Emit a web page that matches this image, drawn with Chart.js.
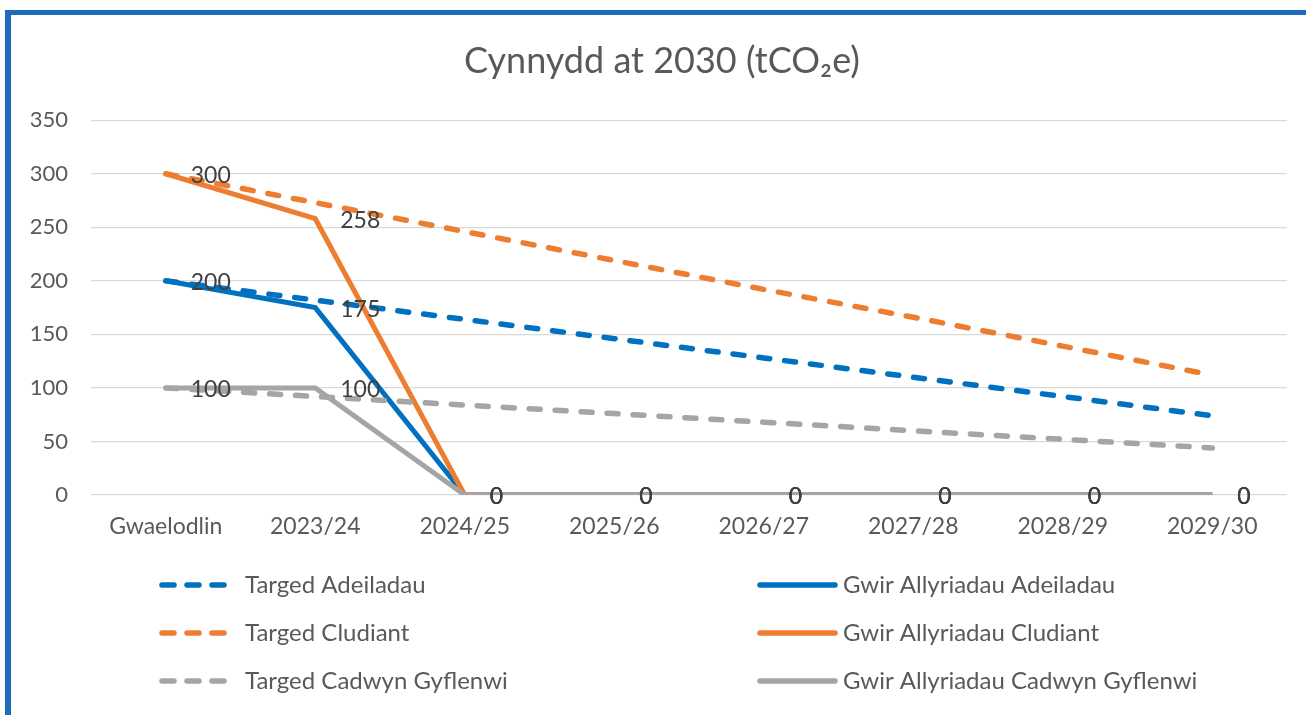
<!DOCTYPE html>
<html><head><meta charset="utf-8">
<script src="https://cdn.jsdelivr.net/npm/chart.js@4.4.0/dist/chart.umd.min.js"></script>
<style>
html,body{margin:0;padding:0;background:#fff;}
#wrap{position:relative;width:1306px;height:715px;overflow:hidden;background:#fff;}
#frameTop{position:absolute;left:5px;top:10px;width:1301px;height:5px;background:#1d6cbc;}
#frameLeft{position:absolute;left:5px;top:10px;width:6px;height:705px;background:#1d6cbc;}
canvas{position:absolute;left:0;top:0;}
</style></head><body>
<div id="wrap"><canvas id="c" width="1306" height="715"></canvas><div id="frameTop"></div><div id="frameLeft"></div></div>
<script>
const categories = ["Gwaelodlin","2023/24","2024/25","2025/26","2026/27","2027/28","2028/29","2029/30"];
const targedAdeiladau = [200,182,164,146,128,110,92,74];
const gwirAdeiladau   = [200,175,0,0,0,0,0,0];
const targedCludiant  = [300,273,246,219,192,166,139,112];
const gwirCludiant    = [300,258,0,0,0,0,0,0];
const targedCadwyn    = [100,92,84,76,68,60,52,44];
const gwirCadwyn      = [100,100,0,0,0,0,0,0];
const yTicks = [0,50,100,150,200,250,300,350];

const BLUE='#0070c0', ORANGE='#ed7d31', GREY='#a5a5a5';
const FONT='Lato';
const TXT='#595959';

function dashed(label,data,color,order){
  return {label,data,borderColor:color,backgroundColor:color,borderWidth:5.5,borderDash:[11,15],
    borderCapStyle:'round',pointRadius:0,tension:0,order,isDashed:true};
}
function solid(label,data,color,order){
  return {label,data,borderColor:color,backgroundColor:color,borderWidth:5,
    borderCapStyle:'butt',borderJoinStyle:'miter',pointRadius:0,tension:0,order,isDashed:false,showLabels:true};
}

const datasets=[
  dashed('Targed Adeiladau',targedAdeiladau,BLUE,6),
  solid('Gwir Allyriadau Adeiladau',gwirAdeiladau,BLUE,5),
  dashed('Targed Cludiant',targedCludiant,ORANGE,4),
  solid('Gwir Allyriadau Cludiant',gwirCludiant,ORANGE,3),
  dashed('Targed Cadwyn Gyflenwi',targedCadwyn,GREY,2),
  solid('Gwir Allyriadau Cadwyn Gyflenwi',gwirCadwyn,GREY,1)
];

const dataLabels={
  id:'dataLabels',
  afterDatasetsDraw(chart){
    const ctx=chart.ctx;
    ctx.save();
    ctx.font='23px '+FONT;
    ctx.fillStyle='#404040';
    ctx.textAlign='left';ctx.textBaseline='middle';
    chart.data.datasets.forEach((ds,i)=>{
      if(!ds.showLabels) return;
      const meta=chart.getDatasetMeta(i);
      meta.data.forEach((pt,j)=>{
        ctx.fillText(String(ds.data[j]),pt.x+25,pt.y+2);
      });
    });
    ctx.restore();
  }
};

const customLegend={
  id:'customLegend',
  afterDraw(chart){
    const ctx=chart.ctx;
    const rowsY=[585,633,681];
    const cols=[{x0:162,x1:231,tx:245},{x0:760,x1:835,tx:843}];
    ctx.save();
    ctx.font='24px '+FONT;
    ctx.textAlign='left';ctx.textBaseline='middle';
    chart.data.datasets.forEach((ds,i)=>{
      const c=cols[i%2], y=rowsY[Math.floor(i/2)];
      ctx.strokeStyle=ds.borderColor;
      ctx.lineWidth=5.5;
      if(ds.isDashed){ctx.setLineDash([12,13]);ctx.lineCap='round';}
      else {ctx.setLineDash([]);ctx.lineCap='round';}
      ctx.beginPath();ctx.moveTo(c.x0,y);ctx.lineTo(c.x1,y);ctx.stroke();
      ctx.fillStyle=TXT;
      ctx.fillText(ds.label,c.tx,y);
    });
    ctx.restore();
  }
};

new Chart(document.getElementById('c'),{
  type:'line',
  data:{labels:categories,datasets},
  options:{
    responsive:false,animation:false,
    layout:{padding:{left:18,right:0,top:0,bottom:170}},
    plugins:{
      legend:{display:false},tooltip:{enabled:false},
      title:{display:true,text:'Cynnydd at 2030 (tCO₂e)',color:TXT,
        font:{family:FONT,size:36,weight:'normal'},padding:{top:40,bottom:37}}
    },
    scales:{
      x:{offset:true,grid:{display:false,drawTicks:false},border:{display:false},
        ticks:{color:TXT,font:{family:FONT,size:23},padding:18,maxRotation:0},
        afterFit(s){s.height=50;}},
      y:{min:0,max:350,afterBuildTicks(s){s.ticks=yTicks.map(v=>({value:v}));},
        grid:{color:'#d9d9d9',lineWidth:1.3,drawTicks:false},border:{display:false},
        ticks:{color:TXT,font:{family:FONT,size:22},padding:23},
        afterFit(s){s.width=73;}},
      yRight:{position:'right',min:0,max:350,display:true,
        grid:{display:false,drawTicks:false},border:{display:false},ticks:{display:false},
        afterFit(s){s.width=19;}}
    }
  },
  plugins:[dataLabels,customLegend]
});
</script>
</body></html>
